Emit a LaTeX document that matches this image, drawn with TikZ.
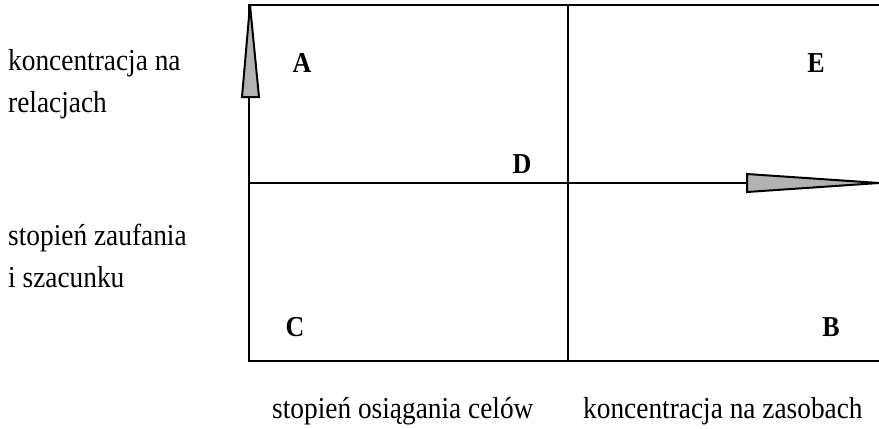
\documentclass[tikz,border=0pt]{standalone}
\usepackage{fontspec}
\setmainfont{Liberation Serif}
\newfontfamily\narrowserif[FakeStretch=0.9]{Liberation Serif}
\begin{document}
\begin{tikzpicture}[x=1bp,y=-1bp,
  frame/.style={line width=2bp,black},
  headfill/.style={fill=black!30,draw=black,line width=2bp,line join=miter},
  lbl/.style={font=\narrowserif\fontsize{30.5}{34}\selectfont,anchor=base west,inner sep=0},
  letter/.style={font=\narrowserif\fontsize{29}{32}\selectfont\bfseries,inner sep=0}]
\useasboundingbox (0,0) rectangle (879,428);
% frame corners
\coordinate (tl) at (249,5);
\coordinate (tr) at (880,5);
\coordinate (bl) at (249,361);
\coordinate (br) at (880,361);
\coordinate (mt) at (568,5);
\coordinate (mb) at (568,361);
\coordinate (ml) at (249,183);
\coordinate (mr) at (747,183);
\draw[frame] (tr) -- (tl) -- (bl) -- (br);
\draw[frame] (mt) -- (mb);
\draw[frame] (ml) -- (mr);
% arrow heads
\coordinate (uptip) at (250,5);
\coordinate (rtip) at (879,183);
\draw[headfill] (242,97) -- (uptip) -- (259,97) -- cycle;
\draw[headfill] (747,174) -- (rtip) -- (747,192) -- cycle;
% letters
\node[letter] (A) at (302,63) {A};
\node[letter] (E) at (816,63) {E};
\node[letter] (D) at (522,164) {D};
\node[letter] (C) at (295,327) {C};
\node[letter] (B) at (831,327) {B};
% labels
\node[lbl] (l1) at (8,70) {koncentracja na};
\node[lbl] (l2) at (8,112) {relacjach};
\node[lbl] (l3) at (8,245) {stopień zaufania};
\node[lbl] (l4) at (8,287) {i szacunku};
\node[lbl] (l5) at (272,418) {stopień osiągania celów};
\node[lbl] (l6) at (583,418) {koncentracja na zasobach};
\end{tikzpicture}
\end{document}
